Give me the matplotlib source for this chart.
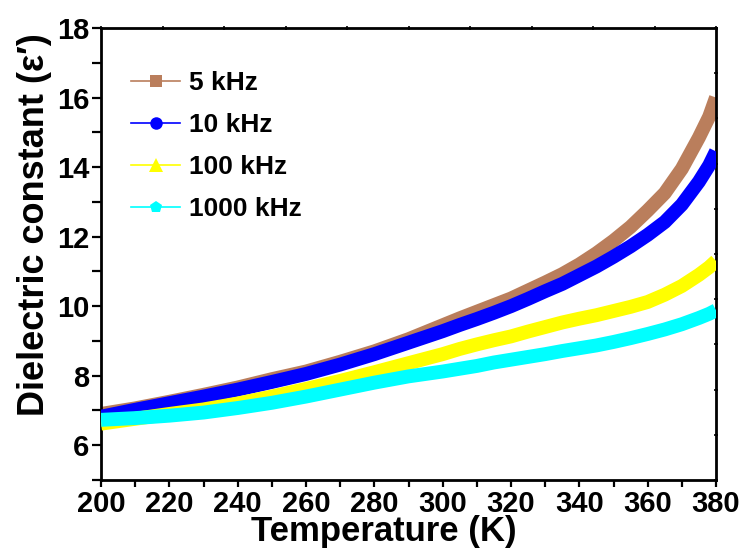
import matplotlib
matplotlib.use("Agg")
import matplotlib.pyplot as plt
from matplotlib.lines import Line2D
import numpy as np

# temperature (K) and dielectric constant
temp = [200, 210, 220, 230, 240, 250, 260, 270, 280, 290,
        300, 305, 310, 315, 320, 325, 330, 335, 340, 345,
        350, 355, 360, 365, 370, 375, 378, 380]
eps_5k = [6.90, 7.06, 7.25, 7.45, 7.66, 7.90, 8.12, 8.40, 8.70, 9.05,
          9.45, 9.65, 9.84, 10.03, 10.22, 10.45, 10.68, 10.92, 11.20, 11.52,
          11.88, 12.28, 12.75, 13.25, 13.95, 14.85, 15.45, 16.00]
eps_10k = [6.82, 7.02, 7.21, 7.40, 7.60, 7.82, 8.05, 8.32, 8.62, 8.95,
           9.28, 9.46, 9.63, 9.81, 10.00, 10.21, 10.43, 10.64, 10.89, 11.14,
           11.42, 11.72, 12.05, 12.42, 12.92, 13.58, 14.05, 14.45]
eps_100k = [6.62, 6.76, 6.90, 7.03, 7.20, 7.40, 7.62, 7.85, 8.10, 8.36,
            8.62, 8.77, 8.90, 9.02, 9.13, 9.27, 9.40, 9.53, 9.64, 9.74,
            9.86, 9.98, 10.12, 10.33, 10.58, 10.90, 11.12, 11.30]
eps_1000k = [6.73, 6.78, 6.85, 6.94, 7.07, 7.22, 7.40, 7.60, 7.80, 7.98,
             8.12, 8.20, 8.28, 8.38, 8.46, 8.54, 8.62, 8.71, 8.79, 8.87,
             8.97, 9.08, 9.20, 9.33, 9.48, 9.66, 9.78, 9.88]

labels = ["5 kHz", "10 kHz", "100 kHz", "1000 kHz"]
colors = ["#BA7E5C", "#0000FF", "#FFFF00", "#00FFFF"]
markers = ["s", "o", "^", "p"]

tick_font = ["Liberation Sans Narrow", "Liberation Sans", "DejaVu Sans"]
label_font = ["Liberation Sans", "DejaVu Sans"]

fig = plt.figure(figsize=(7.42, 5.51), dpi=100)
ax = fig.add_axes([101 / 742, 1 - 480 / 551, 615 / 742, 452 / 551])

series = [eps_5k, eps_10k, eps_100k, eps_1000k]
for i, ys in enumerate(series):
    # dense measured points show up as a thick band
    ax.plot(temp, ys, color=colors[i], lw=10, solid_capstyle="butt",
            solid_joinstyle="round", zorder=2 + i)

ax.set_xlim(200, 380)
ax.set_ylim(5, 18)
ax.set_xticks(np.arange(200, 381, 20))
ax.set_xticks(np.arange(210, 380, 20), minor=True)
ax.set_yticks(np.arange(6, 19, 2))
ax.set_yticks(np.arange(5, 18, 2), minor=True)

for sp in ax.spines.values():
    sp.set_linewidth(2)
ax.tick_params(axis="x", which="both", direction="out", length=5, width=1.6, pad=2)
ax.tick_params(axis="y", which="both", direction="out", length=6.5, width=1.6, pad=2)
ax.tick_params(top=False, right=False)
for t in ax.get_xticklabels() + ax.get_yticklabels():
    t.set_family(tick_font)
    t.set_fontweight("bold")
    t.set_fontsize(21)

# top / right axes: small unlabeled ticks, 10 divisions
top = ax.secondary_xaxis("top")
top.set_xticks(np.linspace(200, 380, 11))
top.set_xticklabels([])
top.tick_params(direction="inout", length=3, width=1.2)
right = ax.secondary_yaxis("right")
right.set_yticks(np.linspace(5, 18, 11))
right.set_yticklabels([])
right.tick_params(direction="inout", length=3, width=1.2)

ax.set_xlabel("Temperature (K)", family=label_font, fontweight="bold", fontsize=25)
ax.xaxis.set_label_coords(0.46, -0.078)
ax.set_ylabel("Dielectric constant (\u03b5\u2032)", family=label_font,
              fontweight="bold", fontsize=26)
ax.yaxis.set_label_coords(-0.08, 0.565)

handles = [Line2D([], [], color=colors[i], lw=1.2, marker=markers[i],
                  markersize=9 if markers[i] != "^" else 10, markeredgewidth=0)
           for i in range(4)]
ax.legend(handles, labels, loc="upper left", bbox_to_anchor=(0.049, 0.905),
          frameon=False, borderpad=0, borderaxespad=0, handlelength=1.85,
          handletextpad=0.35, labelspacing=0.68,
          prop={"family": label_font, "weight": "bold", "size": 19})

fig.savefig("out.png", dpi=100)
